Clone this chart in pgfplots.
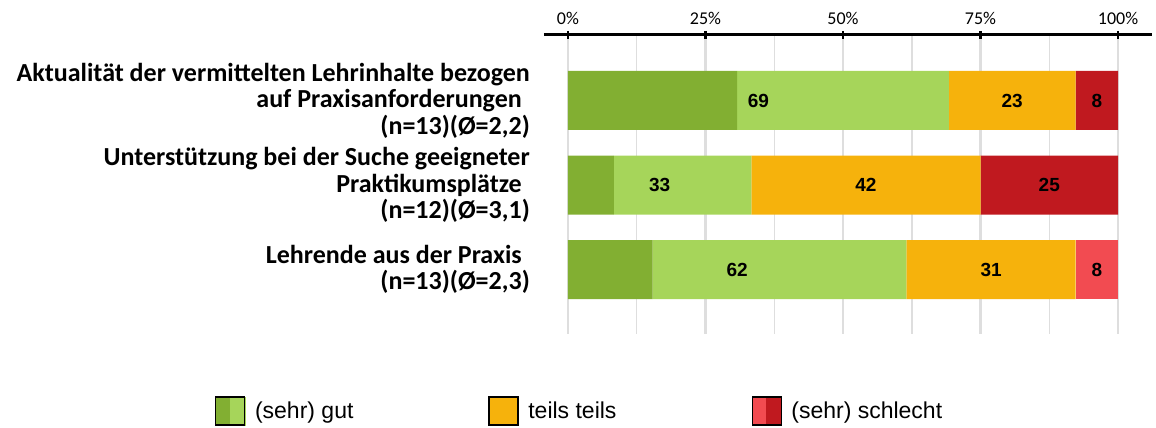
\documentclass[border=0pt]{standalone}
\usepackage{pgfplots}
\pgfplotsset{compat=1.18}
\usepackage{fontspec}
\setmainfont{Liberation Sans}
\newfontfamily\carlito{Carlito}
\definecolor{gdark}{HTML}{82AF32}
\definecolor{glight}{HTML}{A6D55A}
\definecolor{orng}{HTML}{F6B20C}
\definecolor{rdark}{HTML}{C0191F}
\definecolor{rlight}{HTML}{F24B51}
\definecolor{gridgray}{HTML}{DEDEDE}
\pgfplotstableread{
y sg g t s ss
1 30.77 38.46 23.08 0 7.69
2 8.33 25.00 41.67 0 25.00
3 15.38 46.15 30.77 7.69 0
}\datatab
\pgfplotstableread{
x y lab
34.62 1 69
80.77 1 23
96.15 1 8
16.67 2 33
54.17 2 42
87.50 2 25
30.77 3 62
76.92 3 31
96.15 3 8
}\labtab
\begin{document}
\begin{tikzpicture}
\pgfplotsset{common/.style={
  scale only axis, width=608pt, height=299pt,
  xmin=-4.3636, xmax=106.18, ymin=0.2249, ymax=3.7633, y dir=reverse}}
\begin{axis}[common, name=main,
  xbar stacked, bar width=59pt,
  axis x line=top, x axis line style={-, black, line width=3pt},
  axis y line*=left, y axis line style={draw=none},
  xtick={0,25,50,75,100},
  xticklabels={0\%,25\%,50\%,75\%,100\%},
  minor xtick={12.5,37.5,62.5,87.5},
  xmajorgrids, xminorgrids,
  major grid style={gridgray, line width=2.5pt},
  minor grid style={gridgray, line width=1.5pt},
  tick align=center,
  major x tick style={black, line width=2.5pt},
  major tick length=8pt, minor tick length=0pt,
  xticklabel style={font=\carlito\fontsize{18}{18}\selectfont, yshift=3pt},
  ytick={1,2,3}, ytick style={draw=none},
  yticklabels={{Aktualität der vermittelten Lehrinhalte bezogen\\auf Praxisanforderungen\rule{8pt}{0pt}\\(n=13)(Ø=2,2)},
               {Unterstützung bei der Suche geeigneter\\Praktikumsplätze\rule{8pt}{0pt}\\(n=12)(Ø=3,1)},
               {Lehrende aus der Praxis\rule{8pt}{0pt}\\(n=13)(Ø=2,3)}},
  yticklabel style={align=right, font=\carlito\bfseries\fontsize{26}{26.5}\selectfont, inner sep=0pt, xshift=-10pt},
  legend columns=3,
  legend style={draw=none, inner sep=0pt, at={(axis description cs:-0.5411,-0.2575)}, anchor=west,
     font=\fontsize{23}{23}\selectfont,
     /tikz/every even column/.append style={column sep=135pt},
     nodes={inner sep=0pt}},
]
\addplot[fill=gdark, draw=none, forget plot] table[x=sg, y=y] {\datatab};
\addplot[fill=glight, draw=none, forget plot] table[x=g, y=y] {\datatab};
\addplot[fill=orng, draw=none, forget plot] table[x=t, y=y] {\datatab};
\addplot[fill=rlight, draw=none, forget plot] table[x=s, y=y] {\datatab};
\addplot[fill=rdark, draw=none, forget plot] table[x=ss, y=y] {\datatab};
\addlegendimage{legend image code/.code={
  \fill[gdark] (0pt,-14pt) rectangle (14.5pt,14pt);
  \fill[glight] (14.5pt,-14pt) rectangle (29pt,14pt);
  \draw[black, line width=1.3pt] (0pt,-14pt) rectangle (29pt,14pt);
  \path (39pt,0pt);}}
\addlegendentry{(sehr) gut}
\addlegendimage{legend image code/.code={
  \fill[orng] (0pt,-14pt) rectangle (29pt,14pt);
  \draw[black, line width=1.3pt] (0pt,-14pt) rectangle (29pt,14pt);
  \path (39pt,0pt);}}
\addlegendentry{teils teils}
\addlegendimage{legend image code/.code={
  \fill[rlight] (0pt,-14pt) rectangle (14.5pt,14pt);
  \fill[rdark] (14.5pt,-14pt) rectangle (29pt,14pt);
  \draw[black, line width=1.3pt] (0pt,-14pt) rectangle (29pt,14pt);
  \path (39pt,0pt);}}
\addlegendentry{(sehr) schlecht}
\end{axis}
\begin{axis}[common, hide axis]
\addplot[only marks, mark=none, nodes near coords, point meta=explicit symbolic,
  nodes near coords style={anchor=center, font=\bfseries\fontsize{19}{19}\selectfont}]
  table[x=x, y=y, meta=lab] {\labtab};
\end{axis}
\pgfresetboundingbox
\path (main.south west) ++(-544pt,-94pt) coordinate (bbA);
\path (main.north east) ++(4pt,35pt) coordinate (bbB);
\useasboundingbox (bbA) rectangle (bbB);
\end{tikzpicture}
\end{document}
